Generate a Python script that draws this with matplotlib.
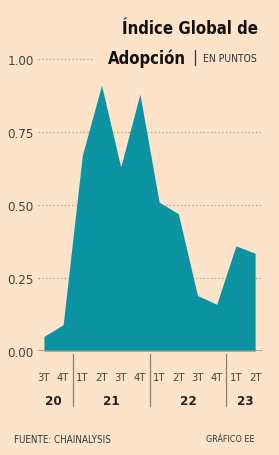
import numpy as np
import matplotlib.pyplot as plt

# Índice Global de Adopción (puntos), por trimestre
trimestres = ['3T', '4T', '1T', '2T', '3T', '4T', '1T', '2T', '3T', '4T', '1T', '2T']
valores = [0.05, 0.09, 0.67, 0.91, 0.63, 0.88, 0.51, 0.47, 0.19, 0.16, 0.36, 0.335]
anios = ['20', '21', '22', '23']
anio_centro = [0.5, 3.5, 7.5, 10.5]
separadores = [1.5, 5.5, 9.5]
yticks = [0.0, 0.25, 0.5, 0.75, 1.0]

fondo = '#fce3ca'
verde = '#0b93a1'
gris = '#4a423c'

plt.rcParams['font.family'] = ['DejaVu Sans']

fig = plt.figure(figsize=(2.79, 4.56), dpi=100, facecolor=fondo)
ax = fig.add_axes([38/279, (456-352)/456, (262-38)/279, (352-60)/456])
ax.set_facecolor(fondo)

x = np.arange(len(valores))
ax.fill_between(x, 0, valores, color=verde, lw=0, zorder=2)

ax.set_xlim(-0.31, 11.36)
ax.set_ylim(0, 1.0)

for t in yticks:
    if t == 0:
        ax.axhline(0, color='#9a8f80', lw=1.2, zorder=3)
    elif t == 1.0:
        # la linea de 1.00 se corta donde empieza el titulo
        ax.axhline(t, xmax=0.24, color='#b0a595', lw=0.9, ls=(0, (1.2, 1.8)),
                   zorder=1, clip_on=False)
    else:
        ax.axhline(t, color='#b0a595', lw=0.9, ls=(0, (1.2, 1.8)), zorder=1)

for s in ax.spines.values():
    s.set_visible(False)
ax.set_xticks([])
ax.set_yticks(yticks)
ax.set_yticklabels(['%.2f' % t for t in yticks], fontsize=9.5, color=gris,
                   fontstretch='condensed')
ax.tick_params(axis='y', length=0, pad=3)

trans = ax.get_xaxis_transform()
for xi, q in zip(x, trimestres):
    ax.text(xi, -0.09, q, transform=trans, ha='center', va='center',
            fontsize=8, color=gris, fontstretch='condensed')
for xc, a in zip(anio_centro, anios):
    ax.text(xc, -0.17, a, transform=trans, ha='center', va='center',
            fontsize=9.5, color='#222222', fontweight='bold', fontstretch='condensed')
for s in separadores:
    ax.plot([s, s], [-0.01, -0.19], transform=trans, color='#8a8070', lw=0.9,
            clip_on=False)

# titulo
fig.text(258/279, 1 - 29/456, 'Índice Global de', ha='right', va='center',
         fontsize=12, fontweight='bold', color='#111111', fontstretch='condensed')
fig.text(186/279, 1 - 59/456, 'Adopción', ha='right', va='center',
         fontsize=12, fontweight='bold', color='#111111', fontstretch='condensed')
fig.text(192/279, 1 - 58/456, '|', ha='left', va='center', fontsize=11,
         color='#333333')
fig.text(203/279, 1 - 59/456, 'EN PUNTOS', ha='left', va='center', fontsize=7.5,
         color='#333333', fontstretch='condensed')

fig.text(14/279, 1 - 440/456, 'FUENTE: CHAINALYSIS', ha='left', va='center',
         fontsize=7, color='#333333', fontstretch='condensed')
fig.text(254/279, 1 - 440/456, 'GRÁFICO EE', ha='right', va='center',
         fontsize=6.5, color='#333333', fontstretch='condensed')

fig.savefig('out.png', dpi=100, facecolor=fondo)
